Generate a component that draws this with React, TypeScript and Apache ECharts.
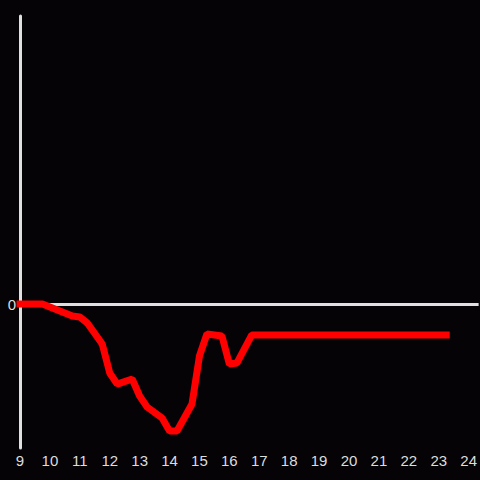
import React, { useEffect, useRef } from "react";
import * as echarts from "echarts";

const hours: number[] = [9.0, 9.75, 10.75, 11.0, 11.25, 11.75, 12.0, 12.25, 12.75, 13.0, 13.25, 13.75, 14.0, 14.25, 14.75, 15.0, 15.25, 15.75, 16.0, 16.25, 16.75, 23.25];
const values: number[] = [0, 0, -0.83, -0.9, -1.32, -2.78, -4.79, -5.56, -5.21, -6.39, -7.15, -7.92, -8.82, -8.82, -6.94, -3.61, -2.08, -2.22, -4.17, -4.1, -2.15, -2.15];
const yLabels: number[] = [0];

export default function App() {
  const ref = useRef<HTMLDivElement>(null);
  useEffect(() => {
    document.body.style.margin = "0";
    document.body.style.background = "#050306";
    const chart = echarts.init(ref.current!, null, { renderer: "svg" });
    chart.setOption({
      animation: false,
      backgroundColor: "#050306",
      grid: { left: 20, right: 0, top: 16, bottom: 32 },
      xAxis: {
        type: "value",
        min: 9,
        max: 24.3333,
        interval: 1,
        axisLine: { show: false },
        axisTick: { show: false },
        splitLine: { show: false },
        axisLabel: {
          color: "#dddddd",
          fontSize: 15,
          fontFamily: "Liberation Sans",
          margin: 5,
          showMaxLabel: false,
          formatter: (v: number) => (Number.isInteger(v) ? String(v) : ""),
        },
      },
      yAxis: {
        type: "value",
        min: -10,
        max: 20,
        interval: 10,
        axisLine: { show: true, lineStyle: { color: "#e0e0e0", width: 3 } },
        axisTick: { show: false },
        splitLine: { show: false },
        axisLabel: {
          color: "#dddddd",
          fontSize: 15,
          fontFamily: "Liberation Sans",
          margin: 4,
          formatter: (v: number) => (yLabels.includes(v) ? String(v) : ""),
        },
      },
      series: [
        {
          type: "line",
          data: [],
          z: 1,
          markLine: {
            silent: true,
            symbol: ["none", "none"],
            label: { show: false },
            lineStyle: { color: "#e0e0e0", width: 3, type: "solid" },
            data: [{ yAxis: 0 }],
          },
        },
        {
          type: "line",
          z: 5,
          data: hours.map((h, i) => [h, values[i]]),
          showSymbol: false,
          symbol: "none",
          lineStyle: { color: "#ff0000", width: 7, cap: "square" },
        },
      ],
    });
    return () => chart.dispose();
  }, []);
  return <div ref={ref} style={{ position: "fixed", left: 0, top: 0, width: 480, height: 480 }} />;
}
